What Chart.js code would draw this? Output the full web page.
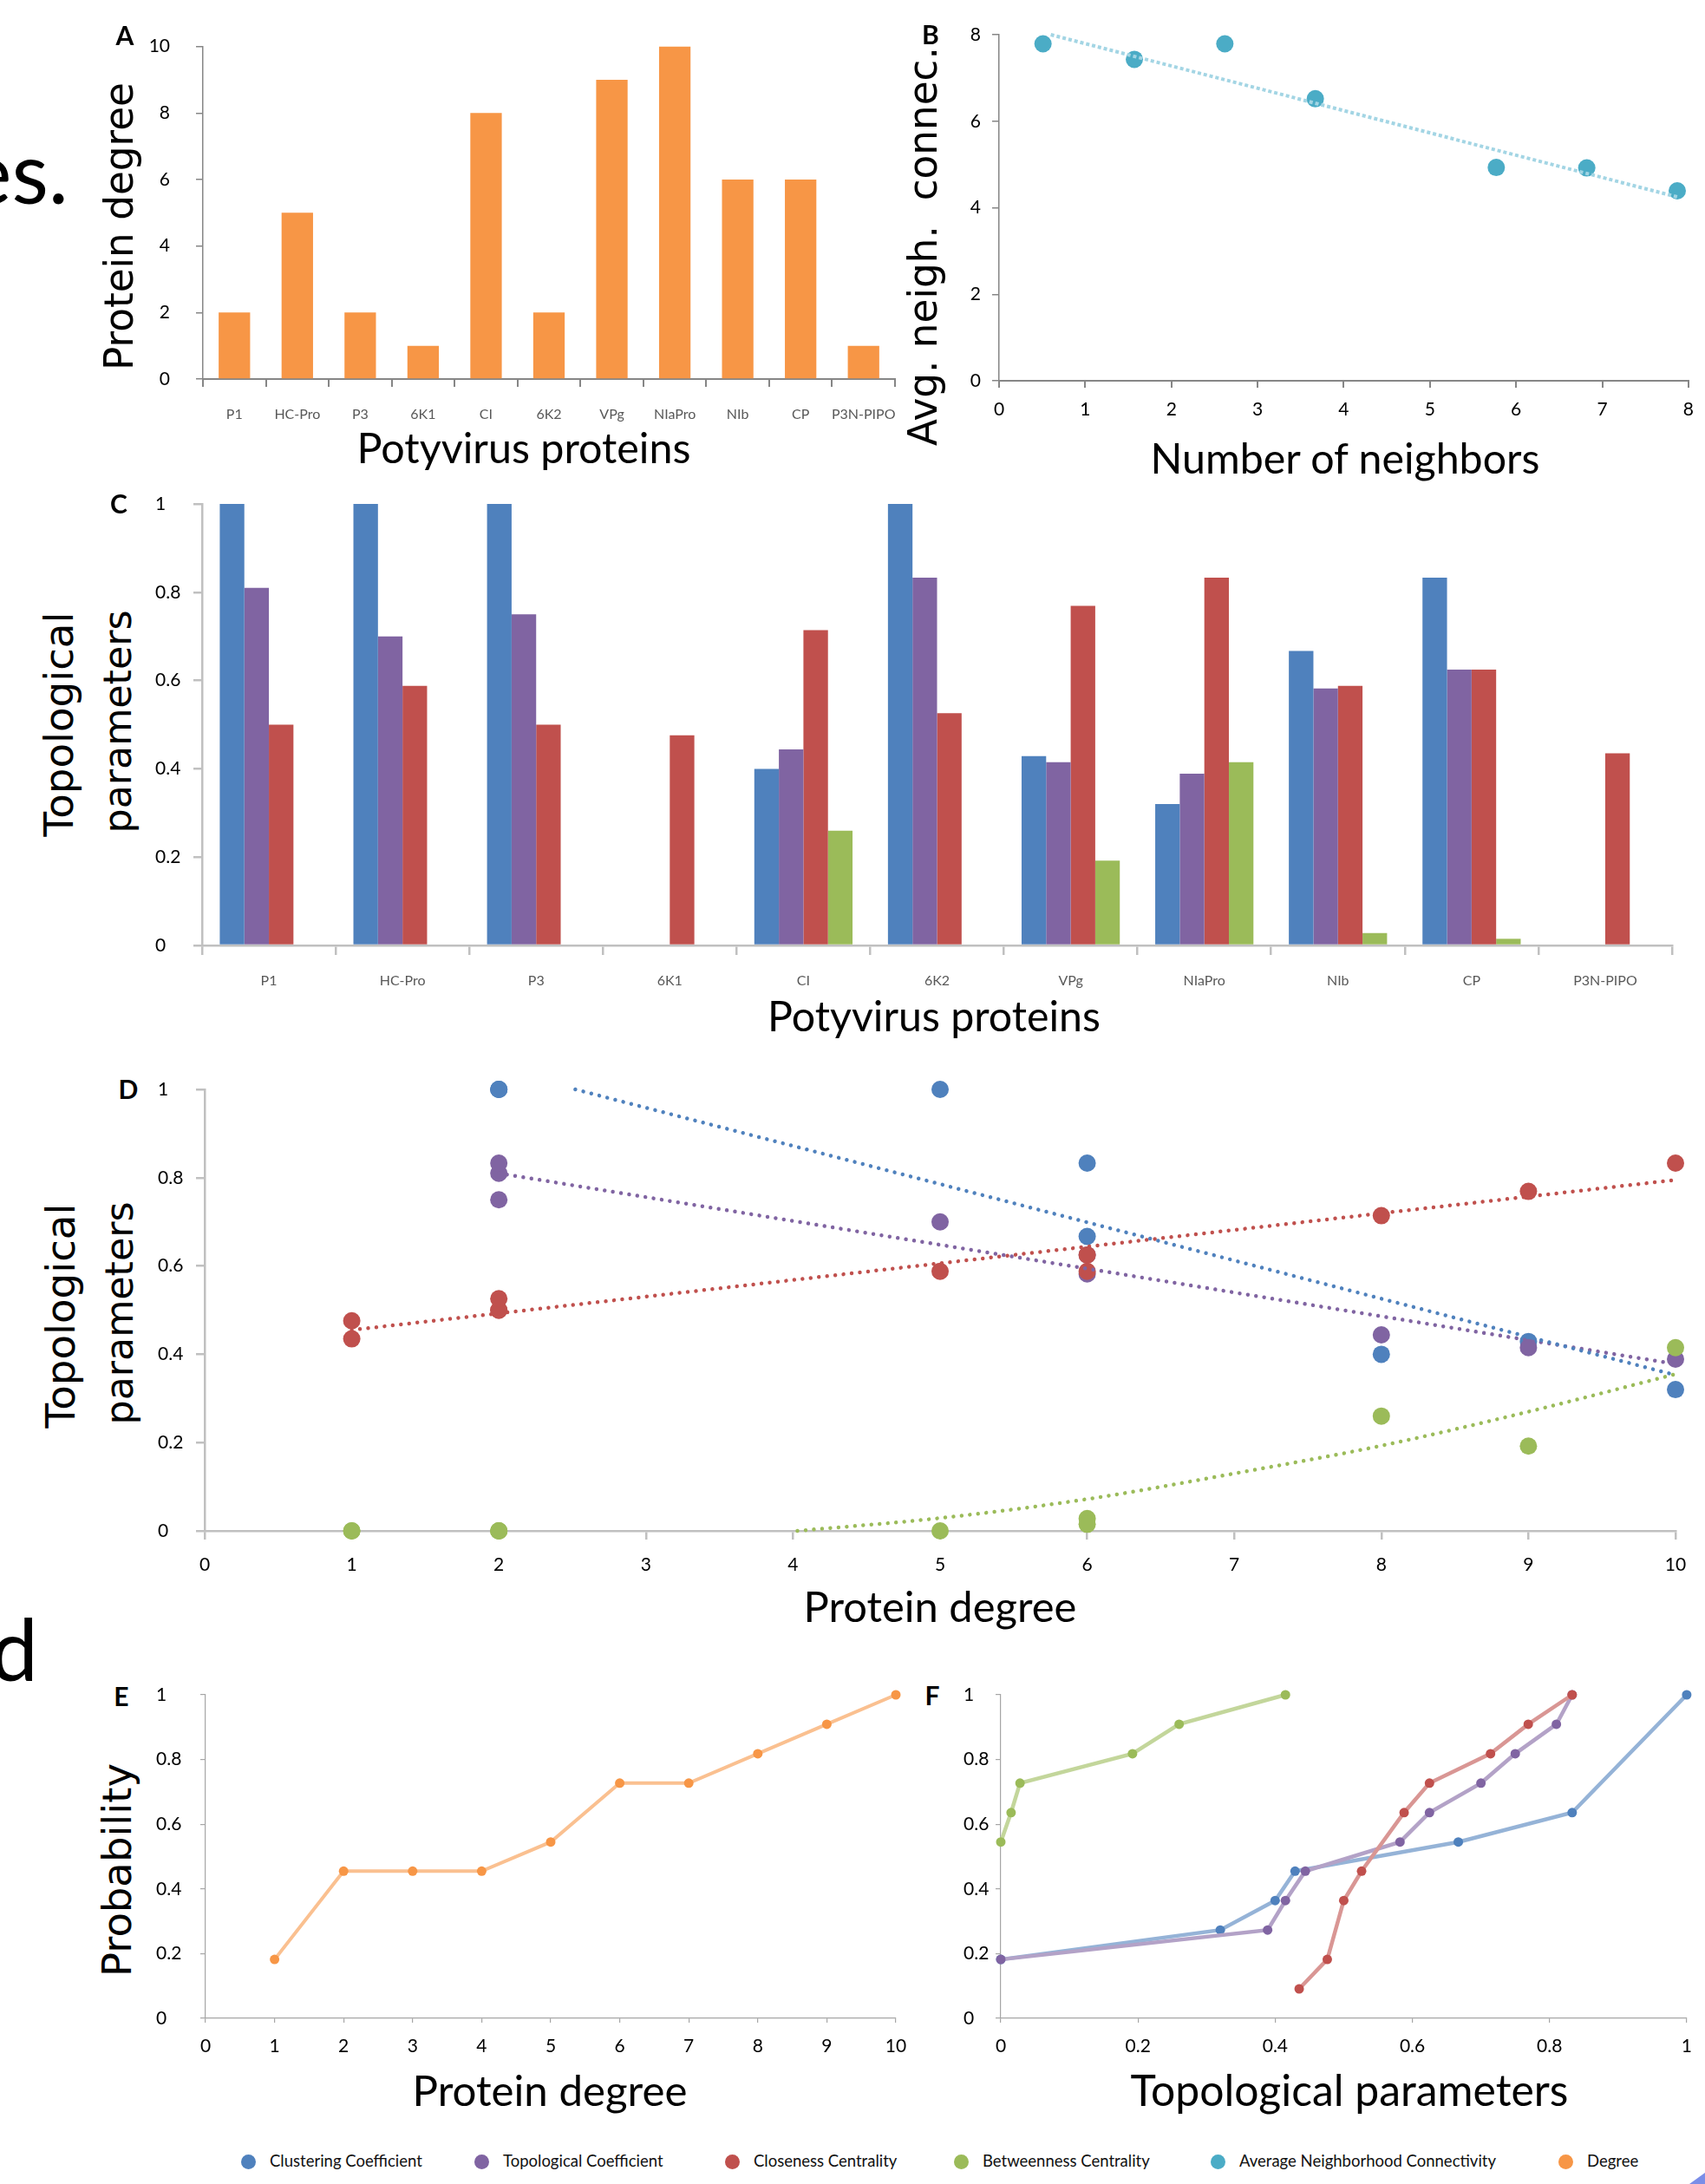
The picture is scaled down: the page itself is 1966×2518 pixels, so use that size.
<!DOCTYPE html>
<html>
<head>
<meta charset="utf-8">
<title>Potyvirus protein interaction network – topological parameters</title>
<script src="https://cdn.jsdelivr.net/npm/chart.js@4.4.1/dist/chart.umd.min.js"></script>
<style>
  html, body { margin: 0; padding: 0; background: #fff; }
  #fig { position: relative; width: 1966px; height: 2518px; overflow: hidden; background: #fff; }
  .t { position: absolute; white-space: pre; line-height: 1; color: #000; }
  .dot { position: absolute; border-radius: 50%; }
</style>
</head>
<body>
<div id="fig"></div>
<script>
// ---------------- data ----------------
const proteins = ['P1', 'HC-Pro', 'P3', '6K1', 'CI', '6K2', 'VPg', 'NIaPro', 'NIb', 'CP', 'P3N-PIPO'];
const proteinDegree = [2, 5, 2, 1, 8, 2, 9, 10, 6, 6, 1];

const clusteringCoef        = [1, 1, 1, null, 0.4, 1, 0.429, 0.32, 0.667, 0.833, null];
const topologicalCoef       = [0.81, 0.7, 0.75, null, 0.444, 0.833, 0.415, 0.389, 0.582, 0.625, null];
const closenessCentrality   = [0.5, 0.588, 0.5, 0.476, 0.714, 0.526, 0.769, 0.833, 0.588, 0.625, 0.435];
const betweennessCentrality = [0, 0, 0, 0, 0.26, 0, 0.192, 0.415, 0.028, 0.015, 0];

// B: average neighbourhood connectivity vs number of neighbours
const neighborCount        = [0.51, 1.57, 2.62, 3.67, 5.77, 6.82, 7.87];
const avgNeighConnectivity = [7.79, 7.43, 7.79, 6.52, 4.93, 4.92, 4.39];
const trendNeighX = [0.6, 7.87];
const trendNeighY = [8.0, 4.25];

// D: trendlines of the topological parameters against degree
const trendClusteringX  = [2.52, 10];
const trendClusteringY  = [1.0, 0.353];
const trendTopologicalX = [2, 10];
const trendTopologicalY = [0.81, 0.378];
const trendClosenessX   = [1, 10];
const trendClosenessY   = [0.455, 0.795];
const trendBetweennessX = [4.03, 5, 6, 7, 8, 9, 10];
const trendBetweennessY = [0, 0.029, 0.072, 0.13, 0.193, 0.27, 0.355];

// E: cumulative degree distribution
const degreeK       = [1, 2, 3, 4, 5, 6, 7, 8, 9, 10];
const degreeCumProb = [0.182, 0.455, 0.455, 0.455, 0.545, 0.727, 0.727, 0.818, 0.909, 1];

// F: cumulative distributions of the topological parameters
const cumClusteringX   = [0, 0.32, 0.4, 0.429, 0.667, 0.833, 1];
const cumClusteringY   = [0.182, 0.273, 0.364, 0.455, 0.545, 0.636, 1];
const cumTopologicalX  = [0, 0.389, 0.415, 0.444, 0.582, 0.625, 0.7, 0.75, 0.81, 0.833];
const cumTopologicalY  = [0.182, 0.273, 0.364, 0.455, 0.545, 0.636, 0.727, 0.818, 0.909, 1];
const cumClosenessX    = [0.435, 0.476, 0.5, 0.526, 0.588, 0.625, 0.714, 0.769, 0.833];
const cumClosenessY    = [0.091, 0.182, 0.364, 0.455, 0.636, 0.727, 0.818, 0.909, 1];
const cumBetweennessX  = [0, 0.015, 0.028, 0.192, 0.26, 0.415];
const cumBetweennessY  = [0.545, 0.636, 0.727, 0.818, 0.909, 1];

const legendLabels = ['Clustering Coefficient', 'Topological Coefficient', 'Closeness Centrality',
                      'Betweenness Centrality', 'Average Neighborhood Connectivity', 'Degree'];

// ---------------- styling ----------------
const BLUE = '#4F81BD', PURPLE = '#8064A2', RED = '#C0504D', GREEN = '#9BBB59', CYAN = '#4BACC6', ORANGE = '#F79646';
const FONT = 'Lato, "Open Sans", sans-serif';
const TITLE_FONT = '"DejaVu Sans", Verdana, sans-serif';

Chart.defaults.font.family = FONT;
Chart.defaults.color = '#000';

const fig = document.getElementById('fig');

function pairsOf(xs, ys) {
  const out = [];
  xs.forEach((x, i) => { if (ys[i] !== null && ys[i] !== undefined) out.push({ x: x, y: ys[i] }); });
  return out;
}

function makeCanvas(left, top, right, bottom) {
  const c = document.createElement('canvas');
  const w = right - left, h = bottom - top;
  c.width = w; c.height = h;
  c.style.cssText = `position:absolute;left:${left}px;top:${top}px;width:${w}px;height:${h}px`;
  fig.appendChild(c);
  return c;
}

function baseOptions(padding, scales) {
  return {
    responsive: false,
    animation: false,
    devicePixelRatio: 1,
    events: [],
    layout: { padding: padding },
    plugins: { legend: { display: false }, tooltip: { enabled: false } },
    scales: scales
  };
}

// plain number labels: 0, 0.2, ... 1 (no trailing zeros)
const plainNumber = v => String(+Number(v).toFixed(2));

function yLinear(o) {
  return {
    type: 'linear', position: 'left', min: o.min, max: o.max,
    ticks: { stepSize: o.step, color: '#000', font: { size: 21, family: FONT }, padding: o.pad,
             crossAlign: o.align, callback: plainNumber },
    grid: { display: true, drawOnChartArea: false, drawTicks: true, tickLength: o.tickLen, color: o.color, lineWidth: o.lineW },
    border: { display: true, color: o.color, width: o.lineW },
    afterFit(s) { s.width = o.width; }
  };
}

function xLinear(o) {
  return {
    type: 'linear', position: 'bottom', min: o.min, max: o.max,
    ticks: { stepSize: o.step, color: '#000', font: { size: 21, family: FONT }, padding: o.pad,
             maxRotation: 0, callback: plainNumber },
    grid: { display: true, drawOnChartArea: false, drawTicks: true, tickLength: o.tickLen, color: o.color, lineWidth: o.lineW },
    border: { display: true, color: o.color, width: o.lineW },
    afterFit(s) { s.height = o.height; }
  };
}

function xCategory(o) {
  return {
    type: 'category', position: 'bottom',
    ticks: { color: '#595959', font: { size: 16, family: FONT }, padding: o.pad, autoSkip: false, maxRotation: 0, minRotation: 0 },
    grid: { display: true, offset: true, drawOnChartArea: false, drawTicks: true, tickLength: o.tickLen, color: o.color, lineWidth: o.lineW },
    border: { display: true, color: o.color, width: o.lineW },
    afterFit(s) { s.height = o.height; }
  };
}

// ---------------- A: protein degree bars ----------------
new Chart(makeCanvas(150, 11, 1062, 500), {
  type: 'bar',
  data: {
    labels: proteins,
    datasets: [{ label: 'Degree', data: proteinDegree, backgroundColor: ORANGE, borderWidth: 0,
                 categoryPercentage: 1, barPercentage: 0.5 }]
  },
  options: baseOptions({ top: 30, right: 30, left: 0, bottom: 0 }, {
    x: xCategory({ height: 63, color: '#868686', lineW: 2, tickLen: 9, pad: 22 }),
    y: yLinear({ min: 0, max: 10, step: 2, width: 84, color: '#868686', lineW: 1.5, tickLen: 8, pad: 30, align: 'near' })
  })
});

// ---------------- B: neighbourhood connectivity ----------------
new Chart(makeCanvas(1090, 10, 1966, 500), {
  type: 'scatter',
  data: {
    datasets: [
      { label: 'Linear trend', data: pairsOf(trendNeighX, trendNeighY), showLine: true,
        borderColor: '#A3D5E4', borderWidth: 4, borderDash: [4, 3], borderCapStyle: 'butt',
        pointRadius: 0, order: 0, clip: false },
      { label: legendLabels[4], data: pairsOf(neighborCount, avgNeighConnectivity),
        pointBackgroundColor: CYAN, pointBorderWidth: 0, pointRadius: 10, order: 1, clip: false }
    ]
  },
  options: baseOptions({ top: 30, right: 16, left: 0, bottom: 0 }, {
    x: xLinear({ min: 0, max: 8, step: 1, height: 61, color: '#868686', lineW: 2, tickLen: 8, pad: 13 }),
    y: yLinear({ min: 0, max: 8, step: 2, width: 62, color: '#868686', lineW: 1.5, tickLen: 8, pad: 13, align: 'near' })
  })
});

// ---------------- C: topological parameters per protein ----------------
const barStyle = { borderWidth: 0, categoryPercentage: 0.735, barPercentage: 1 };
new Chart(makeCanvas(179, 551, 1958, 1155), {
  type: 'bar',
  data: {
    labels: proteins,
    datasets: [
      Object.assign({ label: legendLabels[0], data: clusteringCoef, backgroundColor: BLUE }, barStyle),
      Object.assign({ label: legendLabels[1], data: topologicalCoef, backgroundColor: PURPLE }, barStyle),
      Object.assign({ label: legendLabels[2], data: closenessCentrality, backgroundColor: RED }, barStyle),
      Object.assign({ label: legendLabels[3], data: betweennessCentrality, backgroundColor: GREEN }, barStyle)
    ]
  },
  options: baseOptions({ top: 30, right: 30, left: 0, bottom: 0 }, {
    x: xCategory({ height: 65, color: '#C0C0C0', lineW: 2.5, tickLen: 11, pad: 20 }),
    y: yLinear({ min: 0, max: 1, step: 0.2, width: 54, color: '#C0C0C0', lineW: 2.5, tickLen: 10, pad: 10, align: 'far' })
  })
});

// ---------------- D: parameters against degree ----------------
function pointSet(label, ys, color, order) {
  return { label: label, data: pairsOf(proteinDegree, ys), pointBackgroundColor: color, pointBorderWidth: 0,
           pointRadius: 10, order: order, clip: false };
}
function trendSet(label, xs, ys, color, smooth) {
  return { label: label, data: pairsOf(xs, ys), showLine: true, borderColor: color, borderWidth: 4.5,
           borderDash: [0.01, 9.5], borderCapStyle: 'round', pointRadius: 0, order: 0, clip: false,
           cubicInterpolationMode: smooth ? 'monotone' : 'default' };
}
new Chart(makeCanvas(182, 1226, 1962, 1830), {
  type: 'scatter',
  data: {
    datasets: [
      pointSet(legendLabels[0], clusteringCoef, BLUE, 4),
      pointSet(legendLabels[1], topologicalCoef, PURPLE, 3),
      pointSet(legendLabels[2], closenessCentrality, RED, 2),
      pointSet(legendLabels[3], betweennessCentrality, GREEN, 1),
      trendSet('Clustering trend', trendClusteringX, trendClusteringY, BLUE, false),
      trendSet('Topological trend', trendTopologicalX, trendTopologicalY, PURPLE, false),
      trendSet('Closeness trend', trendClosenessX, trendClosenessY, RED, false),
      trendSet('Betweenness trend', trendBetweennessX, trendBetweennessY, GREEN, true)
    ]
  },
  options: baseOptions({ top: 30, right: 30, left: 0, bottom: 0 }, {
    x: xLinear({ min: 0, max: 10, step: 1, height: 65, color: '#C0C0C0', lineW: 2.5, tickLen: 10, pad: 17 }),
    y: yLinear({ min: 0, max: 1, step: 0.2, width: 54, color: '#C0C0C0', lineW: 2.5, tickLen: 10, pad: 10, align: 'far' })
  })
});

// ---------------- E: cumulative degree distribution ----------------
new Chart(makeCanvas(180, 1924, 1063, 2390), {
  type: 'scatter',
  data: {
    datasets: [{ label: legendLabels[5], data: pairsOf(degreeK, degreeCumProb), showLine: true,
                 borderColor: '#FAC090', borderWidth: 4, pointBackgroundColor: ORANGE, pointBorderWidth: 0,
                 pointRadius: 5.5, clip: false }]
  },
  options: baseOptions({ top: 30, right: 30, left: 0, bottom: 0 }, {
    x: xLinear({ min: 0, max: 10, step: 1, height: 63, color: '#A6A6A6', lineW: 1.2, tickLen: 5, pad: 15 }),
    y: yLinear({ min: 0, max: 1, step: 0.2, width: 57, color: '#A6A6A6', lineW: 1.2, tickLen: 6, pad: 10, align: 'far' })
  })
});

// ---------------- F: cumulative distributions of the parameters ----------------
function cumSet(label, xs, ys, line, color, order) {
  return { label: label, data: pairsOf(xs, ys), showLine: true, borderColor: line, borderWidth: 4.5,
           pointBackgroundColor: color, pointBorderWidth: 0, pointRadius: 5.5, order: order, clip: false };
}
new Chart(makeCanvas(1111, 1924, 1966, 2390), {
  type: 'scatter',
  data: {
    datasets: [
      cumSet(legendLabels[0], cumClusteringX, cumClusteringY, '#95B3D7', BLUE, 4),
      cumSet(legendLabels[1], cumTopologicalX, cumTopologicalY, '#B3A2C7', PURPLE, 3),
      cumSet(legendLabels[2], cumClosenessX, cumClosenessY, '#D99694', RED, 2),
      cumSet(legendLabels[3], cumBetweennessX, cumBetweennessY, '#C3D69B', GREEN, 1)
    ]
  },
  options: baseOptions({ top: 30, right: 14, left: 0, bottom: 0 }, {
    x: xLinear({ min: 0, max: 1, step: 0.2, height: 63, color: '#A6A6A6', lineW: 1.2, tickLen: 5, pad: 15 }),
    y: yLinear({ min: 0, max: 1, step: 0.2, width: 43, color: '#A6A6A6', lineW: 1.2, tickLen: 6, pad: 10, align: 'far' })
  })
});

// ---------------- text ----------------
function baselineOf(el) {
  const m = document.createElement('span');
  m.style.cssText = 'display:inline-block;width:0;height:0;vertical-align:baseline';
  el.appendChild(m);
  const b = m.offsetTop;
  el.removeChild(m);
  return b;
}

// o.x / o.y: anchor on the baseline; o.rotate draws the text reading upwards,
// with o.x the baseline position and o.y the middle of the run.
function addText(str, o) {
  const el = document.createElement('div');
  el.className = 't';
  el.textContent = str;
  el.style.fontFamily = o.family || FONT;
  el.style.fontWeight = o.weight || 'normal';
  el.style.fontSize = o.size + 'px';
  if (o.color) el.style.color = o.color;
  fig.appendChild(el);
  if (o.fit) {
    const w0 = el.getBoundingClientRect().width;
    el.style.fontSize = (o.size * o.fit / w0) + 'px';
  }
  const w = el.getBoundingClientRect().width;
  const b = baselineOf(el);
  if (o.rotate) {
    el.style.left = (o.x - w / 2) + 'px';
    el.style.top = (o.y - b) + 'px';
    el.style.transformOrigin = (w / 2) + 'px ' + b + 'px';
    el.style.transform = 'rotate(-90deg)';
  } else {
    const align = o.align || 'left';
    const left = align === 'center' ? o.x - w / 2 : (align === 'right' ? o.x - w : o.x);
    el.style.left = left + 'px';
    el.style.top = (o.y - b) + 'px';
  }
  return el;
}

// fragments of the surrounding page text
addText('es.', { x: 79, y: 235, size: 98, align: 'right' });
addText('d', { x: 44, y: 1938, size: 98, align: 'right' });

// axis titles
addText('Potyvirus proteins',     { x: 604,  y: 534,  size: 48, fit: 385, align: 'center' });
addText('Number of neighbors',    { x: 1551, y: 546,  size: 48, fit: 449, align: 'center' });
addText('Potyvirus proteins',     { x: 1077, y: 1189, size: 48, fit: 384, align: 'center' });
addText('Protein degree',         { x: 1084, y: 1870, size: 48, fit: 315, align: 'center' });
addText('Protein degree',         { x: 634,  y: 2428, size: 48, fit: 317, align: 'center' });
addText('Topological parameters', { x: 1556, y: 2428, size: 48, fit: 505, align: 'center' });

addText('Protein degree',        { x: 153,  y: 261,  size: 45, fit: 332, family: TITLE_FONT, rotate: true });
addText('Avg. neigh.  connec.',  { x: 1080, y: 284,  size: 45, fit: 460, family: TITLE_FONT, rotate: true });
addText('Topological',           { x: 84,   y: 835,  size: 45, fit: 259, family: TITLE_FONT, rotate: true });
addText('parameters',            { x: 151,  y: 832,  size: 45, fit: 257, family: TITLE_FONT, rotate: true });
addText('Topological',           { x: 86,   y: 1517, size: 45, fit: 259, family: TITLE_FONT, rotate: true });
addText('parameters',            { x: 153,  y: 1514, size: 45, fit: 257, family: TITLE_FONT, rotate: true });
addText('Probability',           { x: 151,  y: 2156, size: 45, fit: 246, family: TITLE_FONT, rotate: true });

// panel letters
[['A', 144, 52], ['B', 1073, 51], ['C', 137, 592], ['D', 148, 1267], ['E', 140, 1967], ['F', 1075, 1966]]
  .forEach(([s, x, y]) => addText(s, { x: x, y: y, size: 30, weight: 'bold', align: 'center' }));

// shared legend
const legendColors = [BLUE, PURPLE, RED, GREEN, CYAN, ORANGE];
const legendX = [286, 555, 844, 1108, 1404, 1805];
legendLabels.forEach((s, i) => {
  const d = document.createElement('div');
  d.className = 'dot';
  d.style.cssText += `left:${legendX[i] - 8.5}px;top:${2492 - 8.5}px;width:17px;height:17px;background:${legendColors[i]}`;
  fig.appendChild(d);
  addText(s, { x: legendX[i] + 25, y: 2498, size: 18.5, color: '#111' });
});

// corner of the slide graphic
const corner = document.createElement('div');
corner.style.cssText = 'position:absolute;left:1948px;top:2505px;width:18px;height:13px;background:#7B8EE8;clip-path:polygon(100% 0,100% 100%,0 100%)';
fig.appendChild(corner);
</script>
</body>
</html>
